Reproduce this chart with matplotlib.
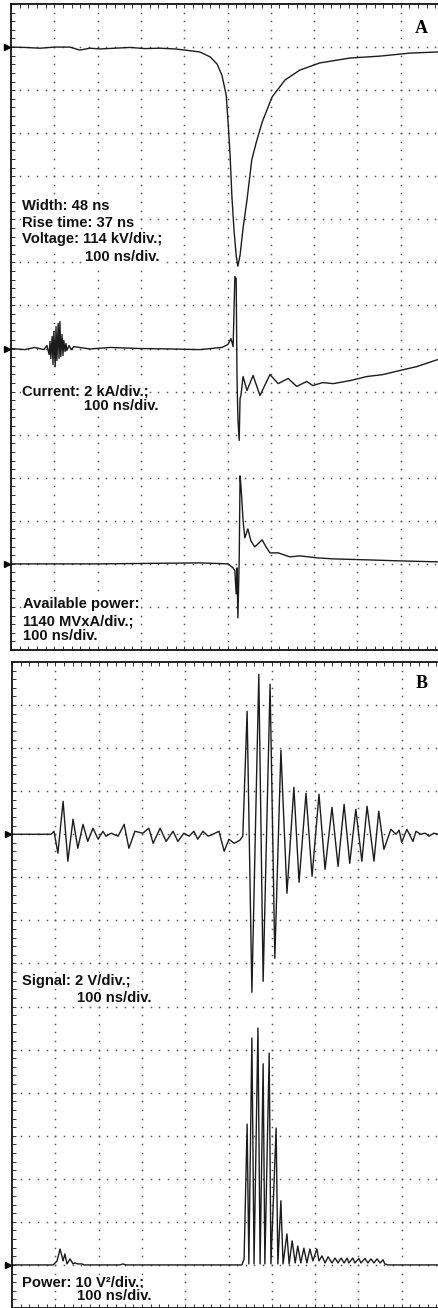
import numpy as np
import matplotlib.pyplot as plt
from matplotlib.ticker import MultipleLocator

# ---- Panel A: pulse generator output (time in ns) ----
# voltage, kV (114 kV/div)
volt_t = [0, 32, 67, 102, 136, 159, 182, 206, 240, 275, 309, 344, 379, 402, 436, 460, 476, 487,
          497, 501, 506, 510, 515, 520, 524, 529, 536, 545, 556, 566, 580, 603, 633, 667, 713,
          783, 852, 921, 986]
volt_kv = [0, -1, -3, 0, 0, -8, -3, -5, -3, -1, -4, -3, -5, -8, -13, -26, -45, -74,
           -127, -193, -286, -392, -484, -551, -580, -551, -479, -405, -299, -254, -199, -132, -87, -61, -42,
           -29, -24, -16, -13]

# current, kA (2 kA/div)
cur_t = [0, 32, 55, 76, 83, 88, 90, 92, 95, 97, 99, 102, 104, 106, 109, 111, 113, 115, 118, 120,
         122, 125, 127, 129, 134, 139, 145, 182, 229, 298, 367, 436, 487, 501, 508, 513, 517, 520,
         522, 524, 527, 529, 531, 536, 545, 559, 575, 598, 617, 640, 660, 683, 697, 720, 744, 783,
         822, 859, 898, 937, 986]
cur_ka = [0, -0.05, 0.05, -0.05, 0.14, -0.28, 0.33, -0.46, 0.56, -0.74, 0.79, -0.84, 1.02, -0.56,
          1.16, -0.46, 1.25, -0.37, 0.65, -0.33, 0.37, -0.14, 0.23, -0.09, 0.14, -0.05, 0.09, -0.02,
          0.05, 0, -0.02, -0.05, 0.05, 0.19, 0.46, 0.09, 3.34, 3.25, -1.39, -3.25, -4.27, -2.32, -2.18,
          -1.30, -1.95, -1.25, -2.18, -1.21, -1.63, -1.39, -1.76, -1.53, -1.72, -1.58, -1.63, -1.49,
          -1.30, -1.21, -1.02, -0.84, -0.51]

# available power, MV*A (1140 MVxA/div)
pow_t = [0, 206, 436, 501, 513, 517, 520, 522, 524, 527, 529, 531, 533, 536, 540, 547, 554, 563,
         580, 589, 598, 617, 644, 667, 707, 744, 822, 898, 986]
pow_mva = [0, 0, 26, 0, -106, -185, -794, -106, -1429, 79, 2329, 2065, 1721, 1138, 688, 926, 609, 450,
           635, 450, 291, 291, 185, 212, 159, 132, 106, 79, 53]

# ---- Panel B: received signal ----
# signal, V (2 V/div)
sig_t = [0, 67, 90, 97, 106, 118, 129, 141, 152, 164, 175, 187, 199, 210, 217, 229, 245, 259, 270,
         284, 302, 316, 326, 342, 356, 372, 383, 397, 409, 420, 429, 441, 453, 464, 478, 490, 501,
         513, 526, 533, 543, 554, 570, 580, 596, 607, 621, 635, 651, 663, 679, 693, 709, 723, 739,
         753, 767, 780, 794, 808, 820, 836, 847, 859, 875, 887, 894, 900, 912, 926, 933, 944, 954,
         963, 974, 984]
sig_v = [0, 0, 0, 0.14, -0.88, 1.53, -1.25, 0.70, -0.65, 0.46, -0.33, 0.28, -0.23, 0.14, -0.09, 0.05,
         -0.09, 0.46, -0.65, 0.14, 0.05, 0.28, -0.42, 0.28, -0.33, 0.14, -0.33, 0.05, -0.09, 0.14,
         -0.23, 0.14, -0.09, 0, 0.14, -0.79, -0.23, -0.42, -0.28, -0.09, 5.71, -7.34, 7.43, -6.83,
         6.97, -5.76, 3.90, -2.74, 2.18, -2.23, 1.90, -1.95, 1.86, -1.63, 1.25, -1.49, 1.39, -1.35,
         1.16, -1.25, 1.30, -1.25, 1.07, -0.70, 0.23, 0, 0.19, -0.37, 0.23, -0.33, 0.14, 0, 0.05,
         -0.09, 0.05, 0]

# power, V^2 (10 V^2/div)
sq_t = [0, 95, 104, 111, 118, 122, 127, 134, 141, 145, 152, 162, 166, 249, 256, 263, 531, 536, 543,
        547, 554, 559, 568, 573, 580, 584, 594, 598, 610, 614, 621, 626, 635, 640, 647, 654, 660,
        667, 674, 681, 688, 695, 704, 709, 716, 723, 730, 739, 746, 753, 760, 767, 774, 778, 787,
        792, 801, 806, 815, 822, 829, 836, 843, 850, 857, 861, 868, 984]
sq_v2 = [0, 0, 0.93, 3.7, 0.93, 2.55, 0.23, 1.39, 0.23, 0.46, 0.23, 0.23, 0, 0, 0.23, 0, 0, 1.39,
         32.7, 0.23, 52.7, 0.23, 55.0, 0.23, 46.7, 0.23, 49.2, 0.23, 31.8, 0.23, 14.9, 0.23, 7.2, 0.23,
         5.6, 0.46, 4.4, 0.46, 3.9, 0.46, 3.7, 0.93, 3.7, 0.93, 2.1, 0.46, 1.9, 0.46, 1.6, 0.46, 1.6,
         0.46, 1.6, 0.46, 1.6, 0.46, 1.5, 0.46, 1.5, 0.46, 1.4, 0.46, 1.4, 0.46, 1.2, 0.23, 0, 0]

TRACE = '#1c1c1c'
LBL = dict(family=['Liberation Sans', 'DejaVu Sans'], weight='bold', fontsize=10.6, color='#111',
           bbox=dict(facecolor='white', edgecolor='none', pad=0.6), zorder=5)

fig = plt.figure(figsize=(4.38, 13.08), dpi=100)
W, H = 438.0, 1308.0
# axes extend past the right edge, like the cropped scope screen
axA = fig.add_axes([11 / W, (H - 650) / H, 433 / W, 646 / H])
axB = fig.add_axes([12 / W, 0 / H, 433 / W, 646 / H])


def scope(ax):
    ax.set_xlim(0, 1000)
    ax.set_ylim(0, 15)
    # dotted graticule
    for k in range(1, 10):
        ys = np.arange(0, 15.01, 0.2)
        ax.plot(np.full_like(ys, k * 100), ys, ls='none', marker='s', ms=1.1, mew=0, color='#555')
    for j in range(1, 15):
        xs = np.arange(0, 1000.1, 20)
        ax.plot(xs, np.full_like(xs, j), ls='none', marker='s', ms=1.1, mew=0, color='#555')
    ax.xaxis.set_major_locator(MultipleLocator(100))
    ax.xaxis.set_minor_locator(MultipleLocator(20))
    ax.yaxis.set_major_locator(MultipleLocator(1))
    ax.yaxis.set_minor_locator(MultipleLocator(0.2))
    ax.tick_params(which='both', direction='in', length=3, width=0.7, color='#333',
                   top=True, bottom=True, left=True, right=False,
                   labelleft=False, labelbottom=False)
    for s in ax.spines.values():
        s.set_linewidth(1.3)
        s.set_color('#111')


def channel(ax, t, vals, base, per_div):
    ax.plot(t, base + np.array(vals) / per_div, color=TRACE, lw=1.0)
    # ground marker at the left of the screen
    ax.plot(-9, base, marker='>', ms=4.5, color='k', clip_on=False)


scope(axA)
channel(axA, volt_t, volt_kv, 14.0, 114)
channel(axA, cur_t, cur_ka, 7.0, 2)
channel(axA, pow_t, pow_mva, 2.0, 1140)

scope(axB)
channel(axB, sig_t, sig_v, 11.0, 2)
channel(axB, sq_t, sq_v2, 1.0, 10)

# panel labels
axA.text(933, 14.33, 'A', family=['Liberation Serif', 'DejaVu Serif'], weight='bold', fontsize=13)
axB.text(933, 14.4, 'B', family=['Liberation Serif', 'DejaVu Serif'], weight='bold', fontsize=13)

# annotations, panel A
axA.text(25, 10.22, 'Width: 48 ns', **LBL)
axA.text(25, 9.82, 'Rise time: 37 ns', **LBL)
axA.text(25, 9.45, 'Voltage: 114 kV/div.;', **LBL)
axA.text(171, 9.03, '100 ns/div.', **LBL)
axA.text(25, 5.92, 'Current: 2 kA/div.;', **LBL)
axA.text(169, 5.57, '100 ns/div.', **LBL)
axA.text(28, 0.975, 'Available power:', **LBL)
axA.text(28, 0.58, '1140 MVxA/div.;', **LBL)
axA.text(28, 0.23, '100 ns/div.', **LBL)

# annotations, panel B
axB.text(23, 7.5, 'Signal: 2 V/div.;', **LBL)
axB.text(150, 7.1, '100 ns/div.', **LBL)
axB.text(23, 0.49, 'Power: 10 V\u00b2/div.;', **LBL)
axB.text(150, 0.19, '100 ns/div.', **LBL)

fig.savefig('out.png', dpi=100)
